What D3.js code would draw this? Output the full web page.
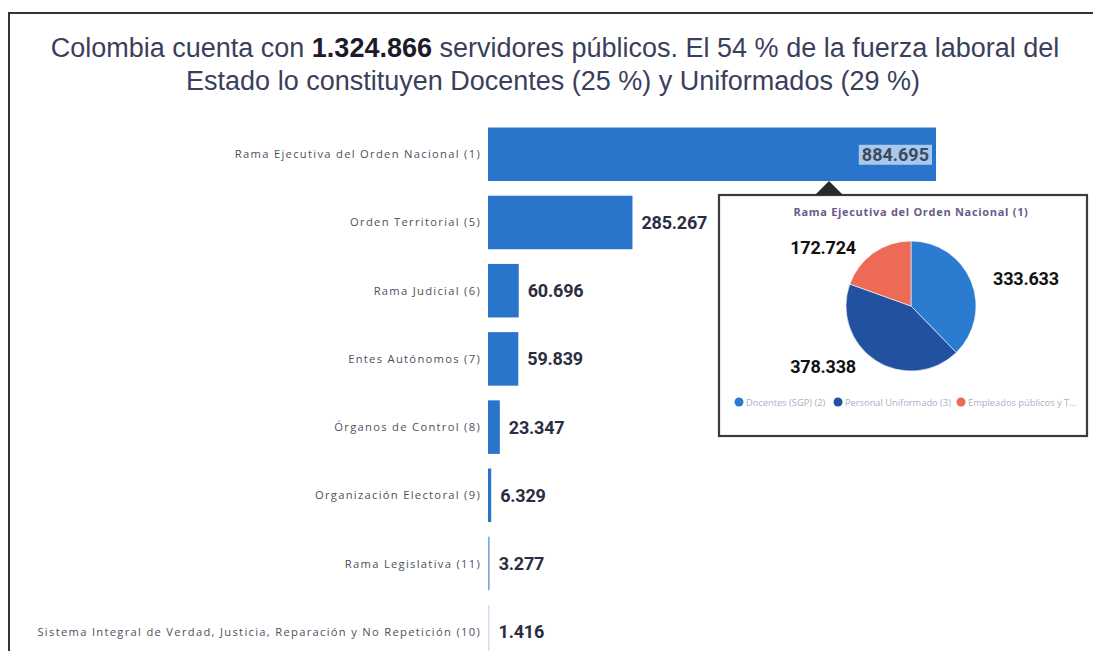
<!DOCTYPE html>
<html><head><meta charset="utf-8">
<script src="https://cdn.jsdelivr.net/npm/d3@7"></script>
<style>
html,body{margin:0;padding:0;background:#fff;}
svg{display:block;}
</style></head>
<body>
<svg id="c" width="1093" height="651"></svg>
<script>
// ---- data ----
const categories = [
  "Rama Ejecutiva del Orden Nacional (1)",
  "Orden Territorial (5)",
  "Rama Judicial (6)",
  "Entes Autónomos (7)",
  "Órganos de Control (8)",
  "Organización Electoral (9)",
  "Rama Legislativa (11)",
  "Sistema Integral de Verdad, Justicia, Reparación y No Repetición (10)"
];
const values = [884695, 285267, 60696, 59839, 23347, 6329, 3277, 1416];
const valueLabels = ["884.695","285.267","60.696","59.839","23.347","6.329","3.277","1.416"];

const pieTitle = "Rama Ejecutiva del Orden Nacional (1)";
const pieCategories = ["Docentes (SGP) (2)", "Personal Uniformado (3)", "Empleados públicos y T..."];
const pieValues = [333633, 378338, 172724];
const pieLabels = ["333.633", "378.338", "172.724"];
const pieColors = ["#2b7bd1", "#22519f", "#ec6a56"];

const titleLine1a = "Colombia cuenta con ";
const titleBold = "1.324.866";
const titleLine1b = " servidores públicos. El 54 % de la fuerza laboral del";
const titleLine2 = "Estado lo constituyen Docentes (25 %) y Uniformados (29 %)";

// ---- drawing ----
const svg = d3.select("#c");

// frame
svg.append("line").attr("x1",8).attr("x2",1093).attr("y1",13).attr("y2",13)
  .attr("stroke","#333").attr("stroke-width",2);
svg.append("line").attr("x1",9).attr("x2",9).attr("y1",13).attr("y2",651)
  .attr("stroke","#333").attr("stroke-width",2);

// title
const tfont = "'Liberation Sans', Arial, sans-serif";
const t1 = svg.append("text").attr("x",555).attr("y",57).attr("text-anchor","middle")
  .attr("font-family",tfont).attr("font-size",27).attr("fill","#3b3f5c");
t1.append("tspan").text(titleLine1a);
t1.append("tspan").attr("font-weight","bold").attr("fill","#1c1c28").text(titleBold);
t1.append("tspan").text(titleLine1b);
svg.append("text").attr("x",553).attr("y",90).attr("text-anchor","middle")
  .attr("font-family",tfont).attr("font-size",27).attr("fill","#3b3f5c").text(titleLine2);

// bars
const x0 = 488;
const x = d3.scaleLinear().domain([0, d3.max(values)]).range([0, 448]);
const y = d3.scaleBand().domain(categories).range([120, 666]).paddingInner(0.215).paddingOuter(0.11);

const g = svg.append("g");
g.selectAll("rect.bar").data(categories).join("rect")
  .attr("class","bar")
  .attr("x", x0)
  .attr("y", d => y(d))
  .attr("width", (d,i) => Math.max(1.5, x(values[i])))
  .attr("height", y.bandwidth())
  .attr("fill", (d,i) => i >= 6 ? (i===7 ? "#cfe0f4" : "#7aa8de") : "#2a75cc");

// category labels
g.selectAll("text.cat").data(categories).join("text")
  .attr("class","cat")
  .attr("x", x0 - 7)
  .attr("y", d => y(d) + y.bandwidth()/2 + 4)
  .attr("text-anchor","end")
  .attr("font-family","'Open Sans', sans-serif")
  .attr("font-size",11.2)
  .attr("letter-spacing",1.3)
  .attr("fill","#4f4f60")
  .text(d => d);

// value labels
const vfont = "Roboto, sans-serif";
categories.forEach((c,i) => {
  const cy = y(c) + y.bandwidth()/2;
  if (i === 0) {
    const tx = x0 + x(values[i]) - 7;
    const lbl = g.append("text").attr("x", tx).attr("y", cy + 6.5)
      .attr("text-anchor","end").attr("font-family",vfont)
      .attr("font-weight","bold").attr("font-size",18).attr("fill","#3d4a5c")
      .text(valueLabels[i]);
    const bb = lbl.node().getBBox();
    g.insert("rect", () => lbl.node())
      .attr("x", bb.x - 3).attr("y", bb.y + 1).attr("width", bb.width + 6).attr("height", bb.height - 1)
      .attr("fill","#a9c9ec");
  } else {
    g.append("text").attr("x", x0 + Math.max(1.5, x(values[i])) + 9).attr("y", cy + 6.5)
      .attr("font-family",vfont).attr("font-weight","bold")
      .attr("font-size",18).attr("fill","#2b2d42").attr("letter-spacing",-0.2)
      .text(valueLabels[i]);
  }
});

// tooltip
const tip = svg.append("g");
const bx = 719, by = 195, bw = 368, bh = 241;
tip.append("rect").attr("x",bx).attr("y",by).attr("width",bw).attr("height",bh)
  .attr("fill","#fff").attr("stroke","#3a3a3a").attr("stroke-width",2.2);
tip.append("path").attr("d", d3.line()([[815,195],[829,181],[843,195]]) + "Z").attr("fill","#2a2a2a");

tip.append("text").attr("x",911).attr("y",216).attr("text-anchor","middle")
  .attr("font-family","'Open Sans', sans-serif").attr("font-size",11).attr("font-weight","bold")
  .attr("letter-spacing",0.7)
  .attr("fill","#6a5a8a").text(pieTitle);

const pcx = 911, pcy = 306, pr = 65;
const pie = d3.pie().sort(null).value(d => d)(pieValues);
const arc = d3.arc().innerRadius(0).outerRadius(pr);
const pg = tip.append("g").attr("transform",`translate(${pcx},${pcy})`);
pg.selectAll("path").data(pie).join("path").attr("d", arc)
  .attr("fill",(d,i) => pieColors[i]).attr("stroke","#fff").attr("stroke-width",0.6);

pie.forEach((d,i) => {
  const mid = (d.startAngle + d.endAngle)/2;
  const right = Math.sin(mid) > 0;
  const ly = -Math.cos(mid) * 72 + 6.5;
  pg.append("text")
    .attr("x", right ? 82 : -55)
    .attr("y", ly)
    .attr("text-anchor", right ? "start" : "end")
    .attr("font-family",vfont).attr("font-weight","bold")
    .attr("font-size",18).attr("fill","#111").attr("letter-spacing",-0.2)
    .text(pieLabels[i]);
});

// legend
const legX = [739, 838, 961];
pieCategories.forEach((c,i) => {
  tip.append("circle").attr("cx",legX[i]).attr("cy",402).attr("r",4.5).attr("fill",pieColors[i]);
  tip.append("text").attr("x",legX[i]+7).attr("y",405.5)
    .attr("font-family","'Open Sans', sans-serif").attr("font-size",9.3)
    .attr("fill","#aab0c4").text(c);
});
</script>
</body></html>
